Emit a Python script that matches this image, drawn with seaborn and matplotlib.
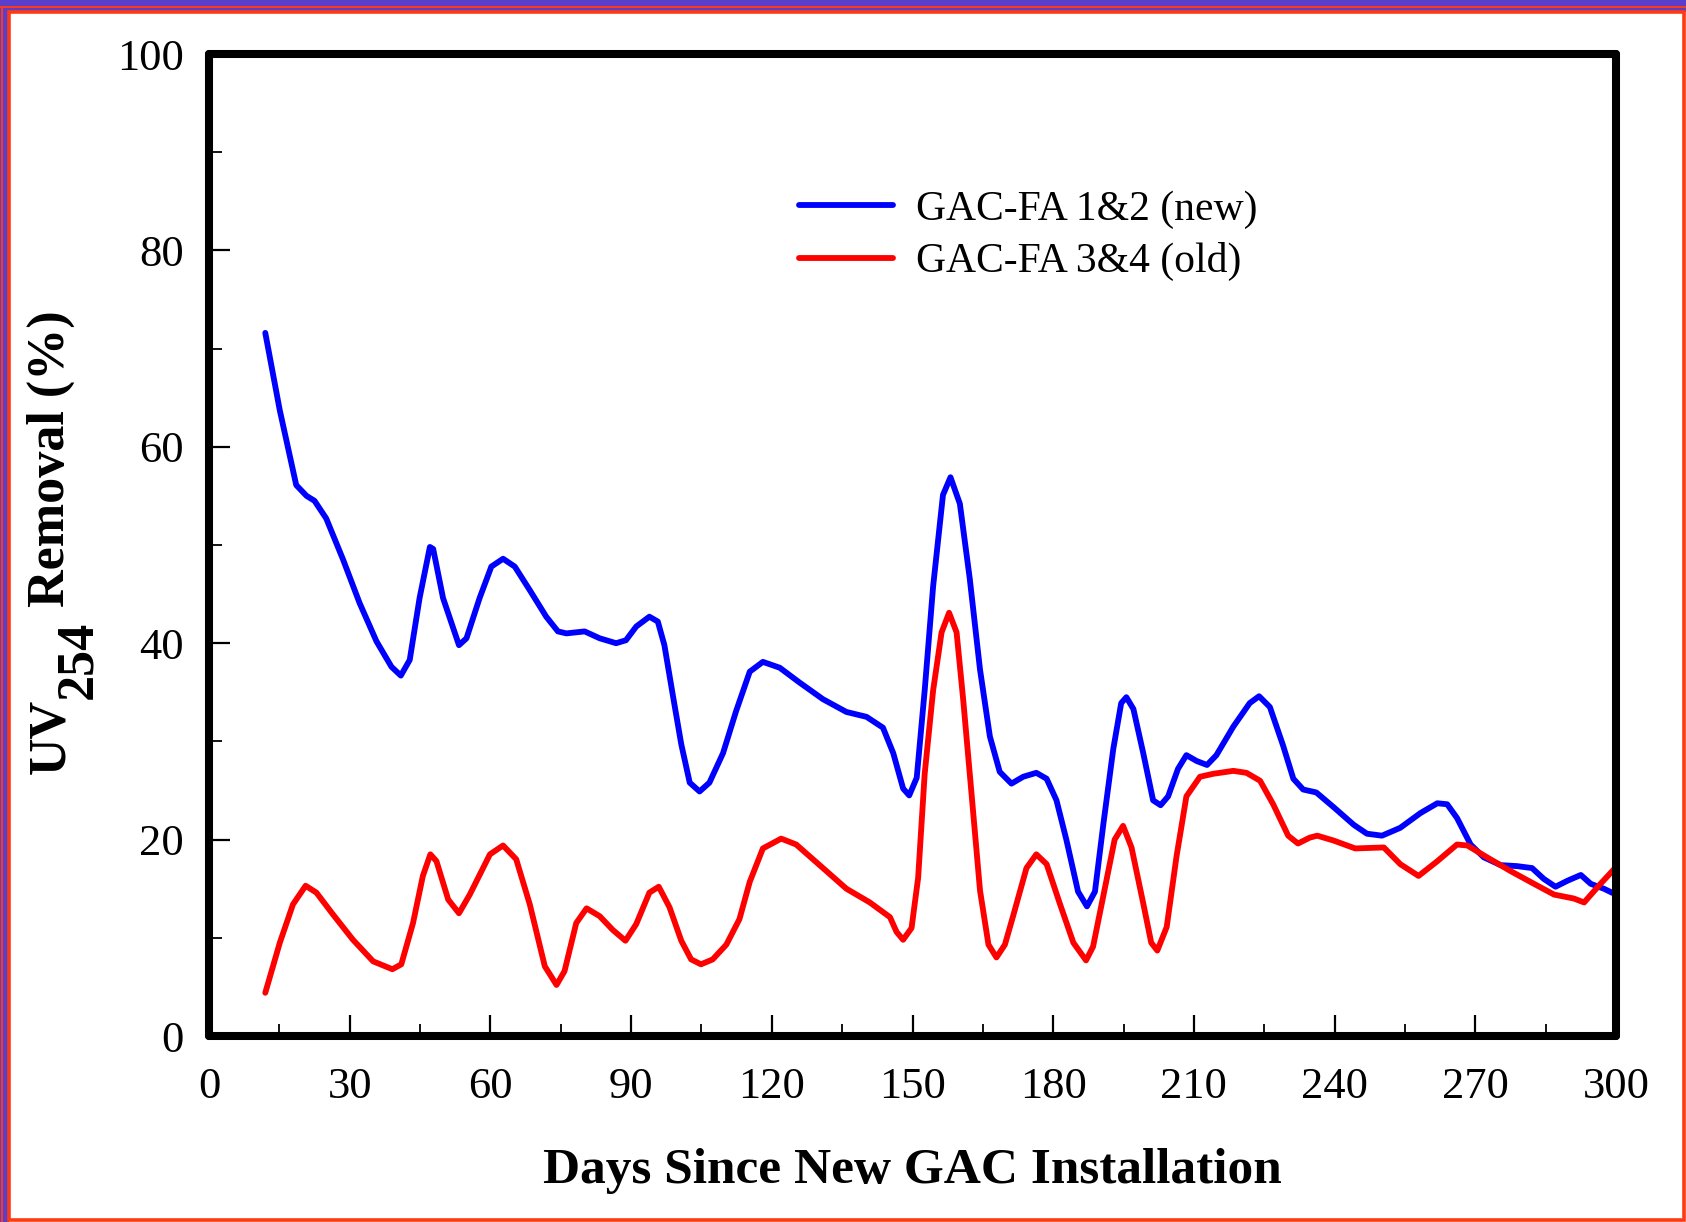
import numpy as np
import pandas as pd
import seaborn as sns
import matplotlib.pyplot as plt
from matplotlib.patches import Rectangle
from matplotlib.lines import Line2D
from matplotlib.ticker import MultipleLocator

# GAC-FA 1&2 (new carbon)
days_new = [12.0, 15.1, 18.6, 20.8, 22.5, 25.0, 28.6, 32.1, 35.7, 38.9, 40.9, 42.8,
            44.9, 47.1, 47.8, 49.9, 53.3, 54.9, 57.7, 60.2, 62.7, 65.2, 68.4, 71.9,
            74.4, 76.2, 80.1, 83.3, 86.8, 88.9, 91.1, 93.9, 95.7, 97.1, 98.9, 100.7,
            102.5, 104.6, 106.7, 109.6, 112.4, 115.3, 118.1, 121.7, 125.9, 130.9,
            135.9, 140.2, 143.7, 145.9, 148.0, 149.3, 150.9, 152.6, 154.4, 156.5,
            158.1, 160.1, 162.2, 164.4, 166.5, 168.6, 171.1, 173.6, 176.4, 178.6,
            180.7, 182.8, 185.3, 187.2, 188.9, 190.7, 192.8, 194.5, 195.6, 197.1,
            199.2, 201.3, 202.9, 204.5, 206.6, 208.4, 210.6, 212.8, 214.8, 218.4,
            221.9, 223.9, 226.2, 229.0, 231.2, 233.3, 236.1, 239.8, 244.1, 246.9,
            250.1, 254.0, 258.3, 261.9, 264.0, 266.1, 269.0, 271.8, 275.4, 278.9,
            282.1, 284.6, 287.1, 289.6, 292.5, 294.6, 297.4, 300.0]
uv_new = [71.6, 63.7, 56.1, 55.0, 54.5, 52.7, 48.5, 44.1, 40.2, 37.6, 36.7, 38.3,
          44.6, 49.8, 49.6, 44.6, 39.8, 40.5, 44.6, 47.8, 48.6, 47.8, 45.4, 42.7,
          41.2, 41.0, 41.2, 40.5, 40.0, 40.3, 41.7, 42.7, 42.2, 39.8, 34.7, 29.7,
          25.8, 24.9, 25.8, 28.8, 33.1, 37.1, 38.1, 37.5, 36.0, 34.3,
          33.0, 32.5, 31.4, 28.8, 25.2, 24.5, 26.3, 35.2, 45.8, 55.1,
          56.9, 54.2, 46.6, 37.3, 30.5, 26.9, 25.7, 26.4, 26.8, 26.2,
          24.0, 20.0, 14.7, 13.2, 14.7, 21.6, 29.2, 33.9, 34.5, 33.3,
          28.8, 24.0, 23.5, 24.4, 27.2, 28.6, 28.0, 27.6, 28.6, 31.5,
          33.9, 34.6, 33.5, 29.6, 26.2, 25.1, 24.8, 23.3, 21.5, 20.6,
          20.4, 21.2, 22.7, 23.7, 23.6, 22.2, 19.5, 18.2, 17.4, 17.3,
          17.1, 16.0, 15.2, 15.8, 16.4, 15.5, 15.0, 14.4]

# GAC-FA 3&4 (old carbon)
days_old = [12.0, 15.1, 17.9, 20.6, 22.9, 26.4, 30.7, 35.0, 39.1, 41.0, 43.5, 45.6,
            47.2, 48.5, 51.0, 53.3, 55.6, 59.9, 62.7, 65.5, 68.4, 71.6, 74.1, 75.8,
            78.3, 80.5, 83.3, 86.1, 88.8, 91.1, 93.9, 95.9, 98.2, 100.7, 102.8,
            104.9, 107.4, 110.3, 113.1, 115.3, 118.1, 122.0, 125.2, 130.2, 135.9,
            140.9, 145.2, 146.6, 148.0, 149.8, 151.2, 152.6, 154.4, 156.2, 157.8,
            159.4, 160.8, 162.6, 164.4, 166.2, 167.9, 169.7, 171.5, 174.3, 176.4,
            178.6, 181.4, 184.3, 187.0, 188.5, 190.7, 193.1, 194.9, 196.7, 199.2,
            200.9, 202.2, 204.2, 206.3, 208.4, 211.3, 214.1, 218.4, 221.2, 224.1,
            226.9, 230.1, 232.2, 234.7, 236.3, 239.8, 244.4, 250.5, 254.0, 257.9,
            261.9, 266.1, 268.3, 272.5, 277.5, 282.5, 286.8, 291.0, 293.2, 296.7,
            300.0]
uv_old = [4.4, 9.5, 13.4, 15.3, 14.6, 12.4, 9.8, 7.6, 6.8, 7.3, 11.5, 16.3,
          18.5, 17.8, 13.9, 12.5, 14.4, 18.5, 19.4, 18.0, 13.4, 7.1, 5.2, 6.6,
          11.5, 13.0, 12.2, 10.8, 9.7, 11.4, 14.6, 15.2, 13.1, 9.7, 7.8,
          7.3, 7.8, 9.3, 11.9, 15.7, 19.1, 20.1, 19.5, 17.4, 15.0,
          13.6, 12.1, 10.6, 9.8, 11.0, 16.1, 26.7, 35.2, 41.1, 43.1,
          41.1, 34.3, 24.6, 14.8, 9.3, 8.0, 9.3, 12.3, 17.1, 18.5,
          17.5, 13.5, 9.5, 7.7, 9.1, 14.3, 20.0, 21.4, 19.2, 13.5,
          9.5, 8.7, 11.1, 18.3, 24.4, 26.4, 26.7, 27.0, 26.8, 26.0,
          23.6, 20.4, 19.6, 20.2, 20.4, 19.9, 19.1, 19.2, 17.5, 16.3,
          17.8, 19.5, 19.4, 18.2, 16.8, 15.5, 14.4, 14.0, 13.6, 15.5,
          17.2]

series_labels = ["GAC-FA 1&2 (new)", "GAC-FA 3&4 (old)"]
series_colors = ["#0000FF", "#FF0000"]
x_ticks = [0, 30, 60, 90, 120, 150, 180, 210, 240, 270, 300]
y_ticks = [0, 20, 40, 60, 80, 100]
x_label = "Days Since New GAC Installation"

sns.set_theme(style="white")
plt.rcParams['font.family'] = ['Liberation Serif', 'DejaVu Serif']
plt.rcParams['text.color'] = 'black'
plt.rcParams['axes.labelcolor'] = 'black'
plt.rcParams['hatch.color'] = '#8C7BE0'
plt.rcParams['hatch.linewidth'] = 0.6

W, H = 1686, 1222
fig = plt.figure(figsize=(W / 100, H / 100), dpi=100)
fig.patch.set_facecolor('white')

# page frame: shaded band on top/left edges plus red rules
purple = '#5A3ECC'
red_rule = '#FF3A12'
def px_rect(x0, y0, x1, y1, **kw):
    fig.add_artist(Rectangle((x0 / W, 1 - y1 / H), (x1 - x0) / W, (y1 - y0) / H,
                             transform=fig.transFigure, zorder=-5, **kw))
px_rect(0, 0, W, 12, facecolor=purple, edgecolor='none', hatch='//')
px_rect(0, 0, 9, H, facecolor=purple, edgecolor='none', hatch='//')
px_rect(0, 6, W, 8, facecolor=red_rule, edgecolor='none')
px_rect(1, 6, 3, H, facecolor=red_rule, edgecolor='none')
px_rect(9, 12, 1684, 1220, facecolor='none', edgecolor=red_rule, linewidth=2.6)

ax = fig.add_axes([209 / W, 1 - 1036 / H, (1616 - 209) / W, (1036 - 54) / H])
ax.set_facecolor('none')

df_new = pd.DataFrame({'day': days_new, 'removal': uv_new})
df_old = pd.DataFrame({'day': days_old, 'removal': uv_old})
line_kw = dict(linewidth=4.2, solid_joinstyle='round', solid_capstyle='round',
               sort=False, estimator=None, ax=ax, legend=False)
sns.lineplot(data=df_new, x='day', y='removal', color=series_colors[0], **line_kw)
sns.lineplot(data=df_old, x='day', y='removal', color=series_colors[1], **line_kw)

ax.set_xlim(0, 300)
ax.set_ylim(0, 100)
ax.set_xticks(x_ticks)
ax.set_yticks(y_ticks)
ax.set_xticklabels([str(v) for v in x_ticks])
ax.set_yticklabels([str(v) for v in y_ticks])
ax.xaxis.set_minor_locator(MultipleLocator(15))
ax.yaxis.set_minor_locator(MultipleLocator(10))

for side in ['left', 'right', 'top', 'bottom']:
    ax.spines[side].set_visible(True)
    ax.spines[side].set_color('black')
    ax.spines[side].set_linewidth(5.8)
    ax.spines[side].set_capstyle('round')

ax.tick_params(which='both', direction='in', bottom=True, left=True,
               top=False, right=False, color='black', labelcolor='black')
ax.tick_params(axis='both', which='major', length=15, width=1.6, labelsize=32)
ax.tick_params(axis='both', which='minor', length=9, width=1.3)
ax.tick_params(axis='x', which='major', pad=22)
ax.tick_params(axis='y', which='major', pad=18)

ax.set_xlabel(x_label, fontsize=37, fontweight='bold', va='baseline')
ax.xaxis.set_label_coords(0.5, (1036 - 1183) / (1036 - 54))
ax.set_ylabel('')

# y-axis title with a full-size subscript, built from three rotated pieces
ylab_kw = dict(rotation=90, rotation_mode='anchor', ha='left', va='baseline',
               fontsize=37.5, fontweight='bold', transform=fig.transFigure)
fig.canvas.draw()
renderer = fig.canvas.get_renderer()
y0 = 1 - 774 / H
t1 = fig.text(64 / W, y0, 'UV', **ylab_kw)
len1 = t1.get_window_extent(renderer).height / H
t2 = fig.text(91 / W, y0 + len1, '254', **ylab_kw)
len2 = t2.get_window_extent(renderer).height / H
t3 = fig.text(64 / W, y0 + len1 + len2, ' Removal (%)', **ylab_kw)

handles = [Line2D([], [], color=c, linewidth=4.2, solid_capstyle='round')
           for c in series_colors]
ax.legend(handles, series_labels, loc='center left',
          bbox_to_anchor=(799 / W, 1 - 236 / H), bbox_transform=fig.transFigure,
          frameon=False, fontsize=30, handlelength=2.25, handletextpad=0.55,
          labelspacing=0.32, borderpad=0, borderaxespad=0)

fig.savefig('out.png', dpi=100, facecolor='white')
